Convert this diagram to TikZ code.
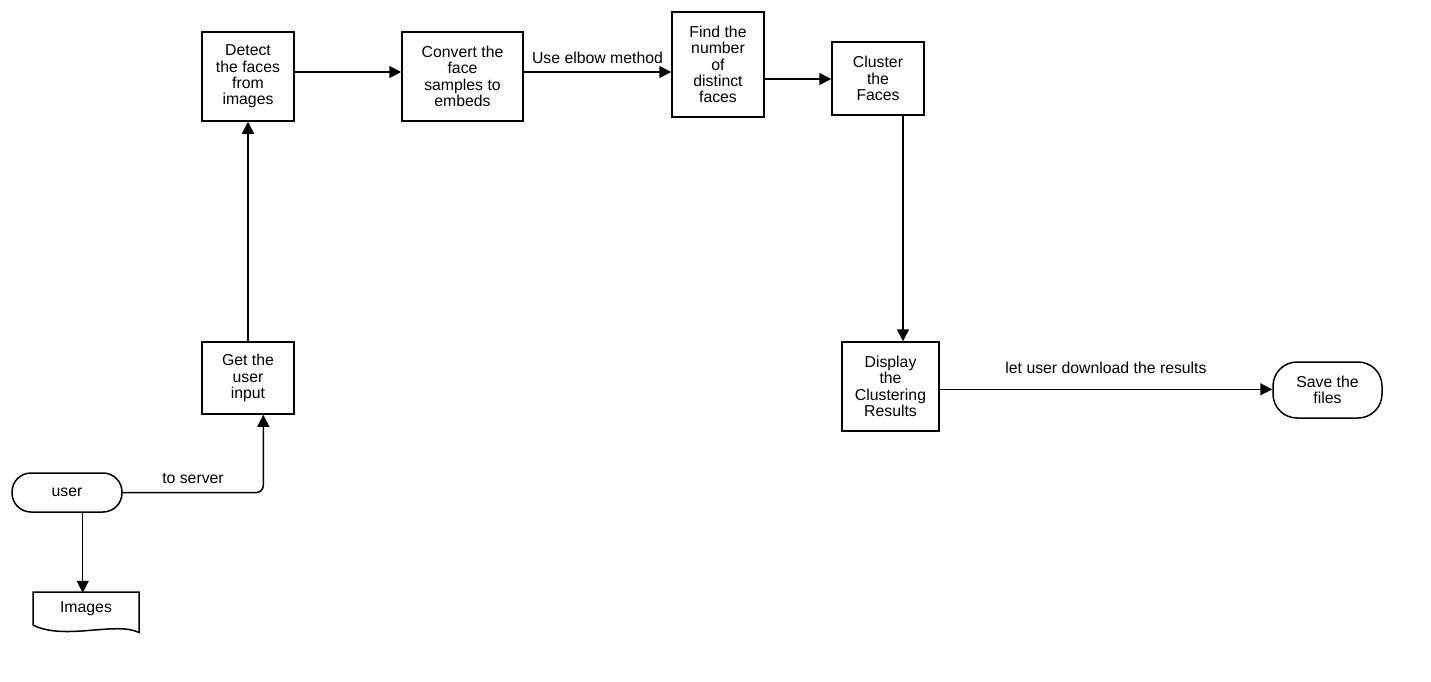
\documentclass[tikz,border=0pt]{standalone}
\usepackage{fontspec}
\setmainfont{Liberation Sans}
\usetikzlibrary{arrows.meta}
\tikzset{
  box/.style={draw, line width=1.5pt, inner sep=0pt, align=center, font=\fontsize{15.8}{16.4}\selectfont},
  term/.style={box, rounded corners=19pt},
  lbl/.style={inner sep=0pt, font=\fontsize{15.8}{16.4}\selectfont},
  arr/.style={line width=1.5pt, -{Triangle[length=12pt,width=12pt]}},
}
\begin{document}
\begin{tikzpicture}[x=1pt,y=-1pt]
\useasboundingbox (0,0) rectangle (1431,682);
% boxes
\node[box, minimum width=92pt, minimum height=89pt] (detect) at (248,76.5) {Detect\\the faces\\from\\images};
\node[box, minimum width=121pt, minimum height=89pt] (convert) at (462.5,76.5) {Convert the\\face\\samples to\\embeds};
\node[box, minimum width=92pt, minimum height=105pt] (find) at (718,64.5) {Find the\\number\\of\\distinct\\faces};
\node[box, minimum width=92pt, minimum height=73pt] (cluster) at (878,78.5) {Cluster\\the\\Faces};
\node[box, minimum width=92pt, minimum height=72pt] (get) at (248,378) {Get the\\user\\input};
\node[box, minimum width=97pt, minimum height=89pt] (display) at (890.5,386.5) {Display\\the\\Clustering\\Results};
\node[term, rounded corners=24pt, minimum width=109pt, minimum height=56pt] (save) at (1327.5,390) {Save the\\files};
\node[term, minimum width=110pt, minimum height=39pt] (user) at (67,492.5) {user};
% document shape
\draw[line width=1.5pt, line join=miter] (33,592) -- (139,592) -- (139,632.5)
  .. controls (116,621) and (64,641) .. (33,625) -- cycle;
\node[lbl, minimum width=106pt, minimum height=32pt] (images) at (86,609) {Images};
% helper coordinates
\coordinate (y72) at (0,72);
\coordinate (y79) at (0,79);
\coordinate (y389) at (0,389.3);
\coordinate (x903) at (903,0);
\coordinate (x263) at (263.3,0);
\coordinate (x83) at (82.7,0);
% connectors
\draw[arr] (detect.east |- y72) -- (convert.west |- y72);
\draw[arr] (convert.east |- y72) -- node[lbl, above=8pt] {Use elbow method} (find.west |- y72);
\draw[arr] (find.east |- y79) -- (cluster.west |- y79);
\draw[arr] (cluster.south -| x903) -- (display.north -| x903);
\draw[arr] (get.north) -- (detect.south);
\draw[arr, rounded corners=7pt] (user.east) -| (get.south -| x263);
\node[lbl] (toserver) at (193,478) {to server};
\draw[arr] (user.south -| x83) -- (images.north -| x83);
\draw[arr] (display.east |- y389) -- node[lbl, above=15pt] {let user download the results} (save.west |- y389);
\end{tikzpicture}
\end{document}
